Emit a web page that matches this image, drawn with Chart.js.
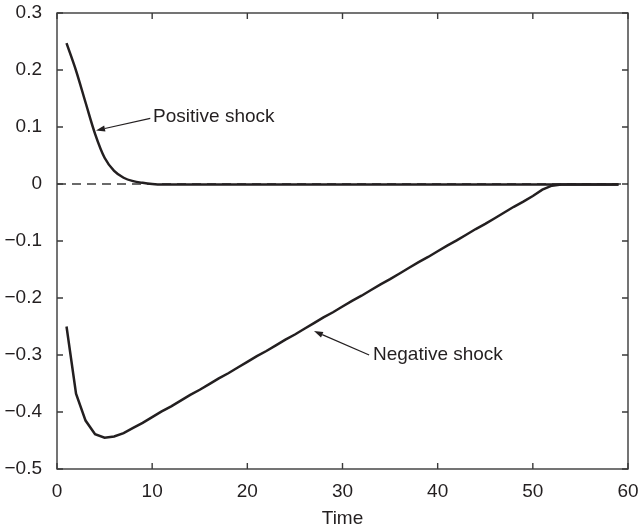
<!DOCTYPE html>
<html>
<head>
<meta charset="utf-8">
<script src="https://cdn.jsdelivr.net/npm/chart.js@4/dist/chart.umd.min.js"></script>
<style>
  html, body { margin: 0; padding: 0; background: #fff; }
  #wrap { width: 641px; height: 531px; }
</style>
</head>
<body>
<div id="wrap"><canvas id="chart" width="641" height="531"></canvas></div>
<script>
// --- DATA ---
const time = [1, 2, 3, 4, 5, 6, 7, 8, 9, 10,
    11, 12, 13, 14, 15, 16, 17, 18, 19, 20,
    21, 22, 23, 24, 25, 26, 27, 28, 29, 30,
    31, 32, 33, 34, 35, 36, 37, 38, 39, 40,
    41, 42, 43, 44, 45, 46, 47, 48, 49, 50,
    51, 52, 53, 54, 55, 56, 57, 58, 59];

const positiveShock = [0.247, 0.199, 0.143, 0.088, 0.046, 0.023, 0.011, 0.005, 0.002, 0.000,
    -0.001, -0.001, -0.001, -0.001, -0.001, -0.001, -0.001, -0.001, -0.001, -0.001,
    -0.001, -0.001, -0.001, -0.001, -0.001, -0.001, -0.001, -0.001, -0.001, -0.001,
    -0.001, -0.001, -0.001, -0.001, -0.001, -0.001, -0.001, -0.001, -0.001, -0.001,
    -0.001, -0.001, -0.001, -0.001, -0.001, -0.001, -0.001, -0.001, -0.001, -0.001,
    -0.001, -0.001, -0.001, -0.001, -0.001, -0.001, -0.001, -0.001, -0.001];

const negativeShock = [-0.250, -0.368, -0.415, -0.439, -0.445, -0.443, -0.437, -0.428, -0.419, -0.409,
    -0.399, -0.390, -0.380, -0.370, -0.361, -0.351, -0.341, -0.332, -0.322, -0.312,
    -0.302, -0.293, -0.283, -0.273, -0.264, -0.254, -0.244, -0.234, -0.225, -0.215,
    -0.205, -0.196, -0.186, -0.176, -0.167, -0.157, -0.147, -0.137, -0.128, -0.118,
    -0.108, -0.099, -0.089, -0.079, -0.070, -0.060, -0.050, -0.040, -0.031, -0.021,
    -0.010, -0.003, -0.001, -0.001, -0.001, -0.001, -0.001, -0.001, -0.001];

const zeroLineX = [0, 60];
const zeroLineY = [0, 0];

// --- LOOK ---
const FONT = "'Liberation Sans', Arial, Helvetica, sans-serif";
const INK = '#231f20';
const AXIS = '#3a3a3a';

// label text, arrow tip, arrow tail, label anchor (data coords)
const notes = [
    { text: 'Positive shock', tip: [4.1, 0.094], tail: [9.8, 0.115], at: [10.1, 0.118] },
    { text: 'Negative shock', tip: [27.0, -0.258], tail: [32.8, -0.300], at: [33.2, -0.300] }
];

const toPoints = (xs, ys) => xs.map((x, i) => ({ x: x, y: ys[i] }));

// no extra room for overhanging tick labels, the frame is placed by layout padding
const noOverhang = (scale) => {
    scale.paddingLeft = 0;
    scale.paddingRight = 0;
    scale.paddingTop = 0;
    scale.paddingBottom = 0;
};

// box frame with inward ticks on all four sides
const frameTicks = {
    id: 'frameTicks',
    afterDraw(chart) {
        const { ctx, chartArea: a, scales: { x, y } } = chart;
        const len = 6;
        ctx.save();
        ctx.strokeStyle = AXIS;
        ctx.lineWidth = 1.4;
        ctx.strokeRect(a.left, a.top, a.right - a.left, a.bottom - a.top);
        ctx.beginPath();
        x.ticks.forEach(t => {
            const px = x.getPixelForValue(t.value);
            ctx.moveTo(px, a.bottom); ctx.lineTo(px, a.bottom - len);
            ctx.moveTo(px, a.top); ctx.lineTo(px, a.top + len);
        });
        y.ticks.forEach(t => {
            const py = y.getPixelForValue(t.value);
            ctx.moveTo(a.left, py); ctx.lineTo(a.left + len, py);
            ctx.moveTo(a.right, py); ctx.lineTo(a.right - len, py);
        });
        ctx.stroke();
        ctx.restore();
    }
};

// arrows + labels
const arrowNotes = {
    id: 'arrowNotes',
    afterDraw(chart) {
        const { ctx, scales: { x, y } } = chart;
        ctx.save();
        notes.forEach(n => {
            const tx = x.getPixelForValue(n.tip[0]), ty = y.getPixelForValue(n.tip[1]);
            const sx = x.getPixelForValue(n.tail[0]), sy = y.getPixelForValue(n.tail[1]);
            const ang = Math.atan2(ty - sy, tx - sx);
            const head = 9, half = 3;
            const bx = tx - head * Math.cos(ang), by = ty - head * Math.sin(ang);

            ctx.strokeStyle = INK;
            ctx.lineWidth = 1.2;
            ctx.beginPath();
            ctx.moveTo(sx, sy);
            ctx.lineTo(bx, by);
            ctx.stroke();

            ctx.fillStyle = INK;
            ctx.beginPath();
            ctx.moveTo(tx, ty);
            ctx.lineTo(bx + half * Math.sin(ang), by - half * Math.cos(ang));
            ctx.lineTo(bx - half * Math.sin(ang), by + half * Math.cos(ang));
            ctx.closePath();
            ctx.fill();

            ctx.font = '19px ' + FONT;
            ctx.textAlign = 'left';
            ctx.textBaseline = 'middle';
            ctx.fillText(n.text, x.getPixelForValue(n.at[0]), y.getPixelForValue(n.at[1]));
        });
        ctx.restore();
    }
};

new Chart(document.getElementById('chart'), {
    type: 'line',
    data: {
        datasets: [
            {
                label: 'Positive shock',
                data: toPoints(time, positiveShock),
                borderColor: INK,
                borderWidth: 2.5,
                pointRadius: 0,
                cubicInterpolationMode: 'monotone',
                order: 1
            },
            {
                label: 'Negative shock',
                data: toPoints(time, negativeShock),
                borderColor: INK,
                borderWidth: 2.5,
                pointRadius: 0,
                tension: 0,
                order: 2
            },
            {
                label: 'zero',
                data: toPoints(zeroLineX, zeroLineY),
                borderColor: AXIS,
                borderWidth: 1.3,
                borderDash: [9, 6],
                pointRadius: 0,
                order: 3
            }
        ]
    },
    options: {
        responsive: false,
        animation: false,
        events: [],
        layout: { padding: { top: 13, right: 13, left: 0, bottom: 0 } },
        plugins: {
            legend: { display: false },
            tooltip: { enabled: false }
        },
        scales: {
            x: {
                type: 'linear',
                min: 0,
                max: 60,
                grid: { display: false, drawTicks: false },
                border: { display: false },
                ticks: {
                    stepSize: 10,
                    padding: 11,
                    color: INK,
                    font: { family: FONT, size: 19 },
                    maxRotation: 0
                },
                title: {
                    display: true,
                    text: 'Time',
                    color: INK,
                    font: { family: FONT, size: 19, lineHeight: 1.2 },
                    padding: { top: 0, bottom: 1 }
                },
                afterFit(scale) {
                    scale.height = 62;
                    noOverhang(scale);
                }
            },
            y: {
                min: -0.5,
                max: 0.3,
                grid: { display: false, drawTicks: false },
                border: { display: false },
                ticks: {
                    stepSize: 0.1,
                    padding: 15,
                    color: INK,
                    font: { family: FONT, size: 19 },
                    callback: (v) => {
                        if (Math.abs(v) < 1e-9) return '0';
                        return (v < 0 ? '\u2212' : '') + Math.abs(v).toFixed(1);
                    }
                },
                afterFit(scale) {
                    scale.width = 57;
                    noOverhang(scale);
                }
            }
        }
    },
    plugins: [frameTicks, arrowNotes]
});
</script>
</body>
</html>
